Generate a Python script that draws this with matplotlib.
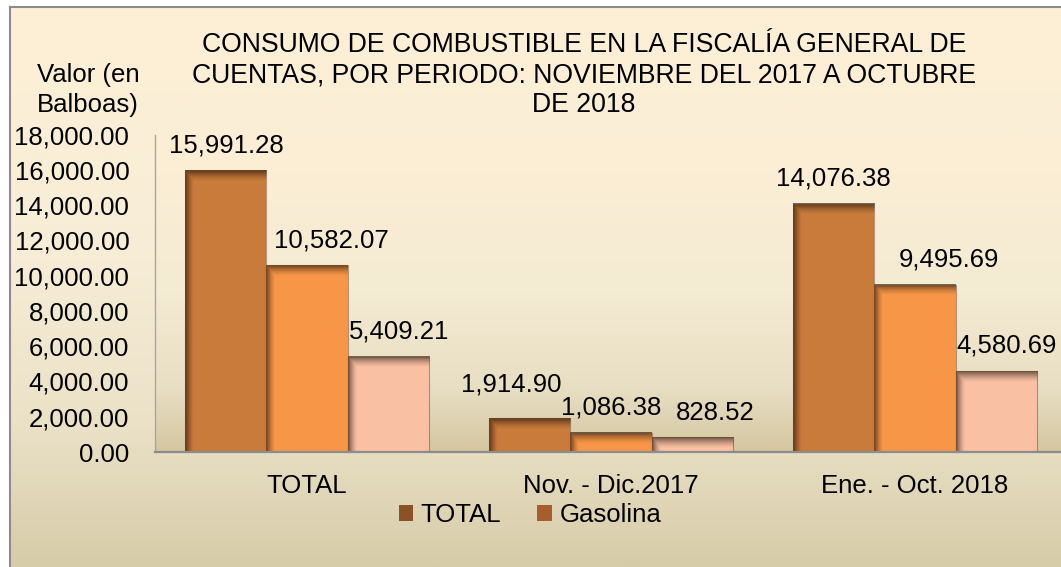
import numpy as np
import matplotlib
matplotlib.use('Agg')
import matplotlib.pyplot as plt
from matplotlib.colors import LinearSegmentedColormap, to_rgb
from matplotlib.lines import Line2D
from matplotlib.patches import Patch

# ---------------- data ----------------
categories = ['TOTAL', 'Nov. - Dic.2017', 'Ene. - Oct. 2018']
series_names = ['TOTAL', 'Gasolina', 'Diésel']
total = [15991.28, 1914.90, 14076.38]
gasolina = [10582.07, 1086.38, 9495.69]
diesel = [5409.21, 828.52, 4580.69]
yticks = list(range(0, 18001, 2000))
title_lines = ['CONSUMO DE COMBUSTIBLE EN LA FISCALÍA GENERAL DE',
               'CUENTAS, POR PERIODO: NOVIEMBRE DEL 2017 A OCTUBRE',
               'DE 2018']
ylabel_lines = ['Valor (en', 'Balboas)']
legend_names = ['TOTAL', 'Gasolina']

# ---------------- style ----------------
W, H, DPI = 1061, 567, 100
FONT = 'Liberation Sans'
FS = 18.5
FS_TITLE = 19.2
bar_colors = ['#C97B3B', '#F79646', '#FAC0A3']
legend_colors = ['#8A5226', '#A65F2C']
# label offsets (px): dx from bar centre, baseline height above bar top
label_offsets = [
    [(0, 18), (-19, 27), (-1, 18)],
    [(24, 18), (0, 18), (34, 18)],
    [(11, 18), (23, 17), (10, 19)],
]

plt.rcParams['font.family'] = [FONT, 'DejaVu Sans']

fig = plt.figure(figsize=(W / DPI, H / DPI), dpi=DPI, facecolor='white')


def fx(px):
    return px / W


def fy(py):
    return 1 - py / H


# chart-area background gradient
bg = fig.add_axes([fx(10), 0, 1 - fx(10), fy(8)], zorder=-10)
cmap_bg = LinearSegmentedColormap.from_list(
    'bg', [(0, '#FEF0D6'), (0.45, '#F7EDD6'), (0.75, '#EAE1C7'), (1.0, '#D7CCA8')])
bg.imshow(np.linspace(0, 1, 256).reshape(-1, 1), cmap=cmap_bg, aspect='auto',
          extent=[0, 1, 0, 1], interpolation='bilinear')
bg.set_axis_off()

# plot area
y_top_px, y0_px = 134.6, 452
ax = fig.add_axes([fx(155), fy(y0_px), 912 / W, (y0_px - y_top_px) / H], zorder=1)
ax.patch.set_alpha(0)
cmap_pa = LinearSegmentedColormap.from_list(
    'pa', [(0, '#FDEFD5'), (0.5, '#F4EBD3'), (0.8, '#E8DEC3'), (1.0, '#D4C7A1')])
ax.imshow(np.linspace(0, 1, 256).reshape(-1, 1), cmap=cmap_pa, aspect='auto',
          extent=[0, 1, 0, 1], transform=ax.transAxes, zorder=0,
          interpolation='bilinear')

series = [total, gasolina, diesel]
x = np.arange(len(categories))
n = len(series)
w = 0.8 / n
ymax = 18000
px_y = ymax / (y0_px - y_top_px)

for i, (vals, col) in enumerate(zip(series, bar_colors)):
    xs = x + (i - (n - 1) / 2) * w
    ax.bar(xs, vals, w, color=col, linewidth=0, zorder=2, label=series_names[i])
    ax.bar(xs, vals, w, fill=False, edgecolor='#7a5030', linewidth=0.8,
           alpha=0.55, zorder=4)
    for j, (xc, v) in enumerate(zip(xs, vals)):
        hpx = max(int(round(v / px_y)), 2)
        wpx = 81
        rows = np.arange(hpx)[:, None]
        cols = np.arange(wpx)[None, :]
        ft = np.clip(1 - rows / 11.0, 0, 1) ** 1.5
        fl = np.clip(1 - cols / 9.0, 0, 1) ** 1.5
        a = 0.55 * np.maximum(ft, fl)
        rgba = np.zeros((hpx, wpx, 4))
        rgba[..., 3] = a
        ax.imshow(rgba, extent=[xc - w / 2, xc + w / 2, 0, v], aspect='auto',
                  zorder=3, interpolation='bilinear')
        dx, dy = label_offsets[i][j]
        ax.annotate(f'{v:,.2f}', xy=(xc, v), xytext=(dx * 0.72, dy * 0.72),
                    textcoords='offset points', ha='center', va='baseline',
                    fontsize=FS, color='black', zorder=5)

ax.set_xlim(-0.5, 2.5)
ax.set_ylim(0, ymax)
ax.set_yticks(yticks)
ax.set_yticklabels([f'{t:,.2f}' for t in yticks])
ax.set_xticks(x)
ax.set_xticklabels(categories)
ax.tick_params(axis='y', length=0, pad=18.5, labelsize=FS, labelcolor='black')
ax.tick_params(axis='x', length=0, pad=16, labelsize=FS, labelcolor='black')
for s in ['top', 'right']:
    ax.spines[s].set_visible(False)
ax.spines['left'].set_color('#A6A6A6')
ax.spines['left'].set_linewidth(1.0)
ax.spines['bottom'].set_color('#8C8C8C')
ax.spines['bottom'].set_linewidth(1.6)
ax.spines['bottom'].set_zorder(6)

# frame border (left and top)
fig.add_artist(Line2D([fx(9.8), fx(9.8)], [0, fy(7.3)], color='#8C8C8C', lw=1.5,
                      transform=fig.transFigure))
fig.add_artist(Line2D([fx(9.8), 1], [fy(7.3), fy(7.3)], color='#8C8C8C', lw=1.5,
                      transform=fig.transFigure))

# title
for k, line in enumerate(title_lines):
    fig.text(fx(584), fy(52 + 30 * k), line, ha='center', va='baseline',
             fontsize=FS_TITLE, color='black')
# y label
for k, line in enumerate(ylabel_lines):
    fig.text(fx(88), fy(82 + 30 * k), line, ha='center', va='baseline',
             fontsize=FS, color='black')

# legend
handles = [Patch(facecolor=c, edgecolor='none') for c in legend_colors]
fig.legend(handles, legend_names, loc='center', bbox_to_anchor=(fx(530), fy(515)),
           ncol=2, frameon=False, handlelength=0.55, handleheight=0.55,
           handletextpad=0.3, columnspacing=1.4, fontsize=FS, borderpad=0,
           borderaxespad=0)

fig.savefig('out.png', dpi=DPI, facecolor='white')
